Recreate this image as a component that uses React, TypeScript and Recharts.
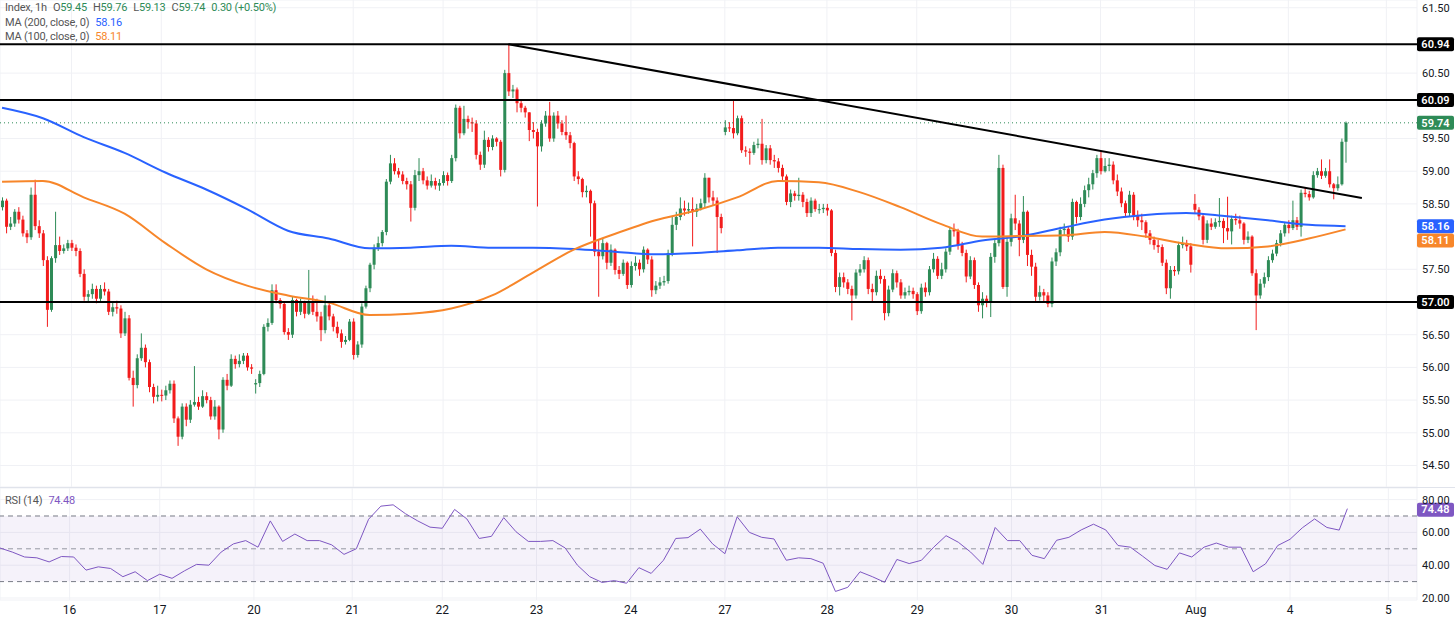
// Hourly candles with MA(200)/MA(100), support/resistance levels and RSI(14) pane

import {
  ComposedChart,
  Bar,
  Line,
  XAxis,
  YAxis,
  CartesianGrid,
  ReferenceLine,
  ReferenceArea,
} from "recharts";

type Hlc = [number, number, number]; // high, low, close (open = previous close)

const day15: Hlc[] = [
  [58.6, 58.4, 58.55], [58.58, 58.05, 58.15], [58.3, 58.1, 58.2], [58.42, 58.15, 58.38],
  [58.45, 58.2, 58.26], [58.32, 58.0, 58.05], [58.1, 57.9, 57.99], [58.75, 57.95, 58.64],
  [58.87, 58.1, 58.16], [58.25, 57.98, 58.05], [58.1, 57.55, 57.64], [57.7, 56.62, 56.88],
  [57.7, 56.85, 57.67], [58.38, 57.6, 57.87], [58.0, 57.72, 57.78], [57.88, 57.74, 57.82],
  [57.95, 57.78, 57.9],
];
const day16: Hlc[] = [
  [57.95, 57.78, 57.83], [57.88, 57.7, 57.78], [57.82, 57.38, 57.43], [57.5, 57.02, 57.08],
  [57.18, 57.0, 57.12], [57.28, 57.05, 57.2], [57.25, 56.98, 57.05], [57.26, 57.0, 57.2],
  [57.3, 57.1, 57.16], [57.2, 56.8, 56.85], [57.0, 56.78, 56.92], [57.02, 56.82, 56.9],
  [56.95, 56.45, 56.52], [56.85, 56.48, 56.75], [56.8, 55.8, 55.84], [55.95, 55.4, 55.73],
  [56.2, 55.68, 56.14], [56.52, 56.1, 56.3], [56.35, 56.0, 56.08], [56.12, 55.62, 55.7],
  [55.75, 55.45, 55.55], [55.72, 55.48, 55.58],
];
const day17: Hlc[] = [
  [55.66, 55.48, 55.57], [55.72, 55.5, 55.65], [55.8, 55.6, 55.75], [55.8, 55.15, 55.22],
  [55.25, 54.8, 54.94], [55.45, 54.9, 55.4], [55.45, 55.1, 55.2], [55.5, 55.15, 55.43],
  [56.02, 55.4, 55.47], [55.55, 55.35, 55.4], [55.65, 55.38, 55.56], [55.62, 55.45, 55.5],
  [55.55, 55.2, 55.25], [55.5, 55.2, 55.4], [55.42, 54.9, 55.05], [55.85, 55.0, 55.81],
  [55.9, 55.65, 55.72], [56.2, 55.7, 56.13], [56.18, 55.98, 56.05], [56.2, 56.0, 56.1],
  [56.22, 56.05, 56.18], [56.22, 55.95, 56.0], [56.05, 55.9, 55.98],
];
const day20: Hlc[] = [
  [55.82, 55.6, 55.76], [55.95, 55.7, 55.9], [56.66, 55.88, 56.62], [56.75, 56.55, 56.68],
  [57.27, 56.65, 57.18], [57.27, 56.98, 57.03], [57.06, 56.9, 56.97], [57.0, 56.5, 56.54],
  [56.6, 56.42, 56.5], [57.08, 56.45, 57.03], [57.05, 56.78, 56.85], [57.05, 56.8, 57.0],
  [57.02, 56.75, 56.82], [57.49, 56.8, 57.0], [57.1, 56.8, 56.85], [57.05, 56.7, 56.78],
  [56.85, 56.4, 56.57], [57.1, 56.52, 56.95], [57.0, 56.72, 56.78], [56.82, 56.55, 56.62],
  [56.7, 56.45, 56.52], [56.58, 56.3, 56.39], [56.48, 56.35, 56.42], [56.74, 56.4, 56.7],
];
const day21: Hlc[] = [
  [56.75, 56.12, 56.19], [56.4, 56.15, 56.35], [56.98, 56.3, 56.93], [57.25, 56.9, 57.21],
  [57.6, 57.15, 57.57], [57.88, 57.5, 57.83], [58.0, 57.78, 57.9], [58.1, 57.85, 58.07],
  [58.88, 58.02, 58.84], [59.25, 58.8, 59.12], [59.2, 58.95, 59.0], [59.05, 58.9, 58.95],
  [59.0, 58.8, 58.85], [58.9, 58.72, 58.8], [58.85, 58.23, 58.44], [59.02, 58.4, 58.94],
  [59.2, 58.85, 59.0], [59.05, 58.8, 58.86], [58.92, 58.72, 58.78], [58.95, 58.75, 58.85],
  [58.9, 58.72, 58.78], [58.88, 58.7, 58.82],
];
const day22: Hlc[] = [
  [59.0, 58.78, 58.94], [58.98, 58.78, 58.85], [59.25, 58.82, 59.2], [60.02, 59.15, 59.97],
  [60.0, 59.5, 59.58], [60.0, 59.55, 59.8], [59.85, 59.65, 59.75], [59.82, 59.6, 59.73],
  [59.78, 59.18, 59.25], [59.3, 59.02, 59.1], [59.62, 59.05, 59.48], [59.52, 59.3, 59.37],
  [59.55, 59.32, 59.5], [59.52, 59.38, 59.45], [59.48, 58.92, 59.02], [60.55, 58.98, 60.5],
  [60.94, 60.15, 60.22], [60.32, 60.12, 60.25], [60.28, 59.9, 60.04], [60.1, 59.9, 59.97],
  [60.0, 59.82, 59.9], [59.9, 59.46, 59.63], [59.75, 59.5, 59.6],
];
const day23: Hlc[] = [
  [59.65, 58.46, 59.38], [59.78, 59.3, 59.73], [59.92, 59.68, 59.85], [60.06, 59.45, 59.5],
  [59.9, 59.45, 59.85], [59.92, 59.65, 59.73], [59.78, 59.55, 59.6], [59.85, 59.48, 59.55],
  [59.6, 59.35, 59.43], [59.45, 58.85, 58.92], [59.0, 58.8, 58.88], [58.9, 58.6, 58.68],
  [58.78, 58.6, 58.7], [58.72, 58.0, 58.51], [58.55, 57.7, 57.77], [57.95, 57.08, 57.7],
  [57.98, 57.65, 57.9], [57.92, 57.5, 57.6], [57.88, 57.55, 57.8], [57.82, 57.42, 57.49],
  [57.55, 57.35, 57.43], [57.65, 57.4, 57.6], [57.62, 57.2, 57.26],
];
const day24: Hlc[] = [
  [57.62, 57.22, 57.55], [57.7, 57.48, 57.6], [57.65, 57.4, 57.5], [57.85, 57.45, 57.8],
  [57.82, 57.58, 57.65], [57.7, 57.08, 57.18], [57.32, 57.12, 57.25], [57.38, 57.2, 57.3],
  [57.4, 57.25, 57.32], [57.8, 57.28, 57.75], [58.3, 57.7, 58.18], [58.38, 58.1, 58.3],
  [58.6, 58.25, 58.43], [58.55, 58.32, 58.4], [58.52, 58.35, 58.42], [58.6, 57.85, 58.38],
  [58.5, 58.3, 58.43], [58.58, 58.4, 58.51], [58.97, 58.45, 58.9], [58.9, 58.52, 58.6],
  [58.7, 58.48, 58.55], [58.6, 57.75, 58.3], [58.35, 58.05, 58.13],
];
const day27: Hlc[] = [
  [59.78, 59.55, 59.67], [59.75, 59.6, 59.66], [60.09, 59.5, 59.58], [59.85, 59.55, 59.81],
  [59.85, 59.28, 59.32], [59.38, 59.22, 59.3], [59.35, 59.1, 59.28], [59.45, 59.25, 59.4],
  [59.5, 59.35, 59.42], [59.8, 59.1, 59.17], [59.4, 59.12, 59.35], [59.4, 59.1, 59.17],
  [59.25, 59.05, 59.15], [59.2, 58.98, 59.05], [59.1, 58.85, 58.92], [58.95, 58.48, 58.53],
  [58.72, 58.45, 58.66], [58.7, 58.55, 58.62], [58.9, 58.55, 58.64], [58.68, 58.45, 58.53],
  [58.58, 58.3, 58.36], [58.6, 58.3, 58.55], [58.58, 58.38, 58.42], [58.5, 58.35, 58.42],
  [58.5, 58.36, 58.44],
];
const day28: Hlc[] = [
  [58.5, 58.32, 58.4], [58.42, 57.7, 57.75], [57.8, 57.15, 57.23], [57.45, 57.1, 57.38],
  [57.45, 57.22, 57.3], [57.35, 57.12, 57.2], [57.25, 56.72, 57.1], [57.5, 57.05, 57.45],
  [57.58, 57.4, 57.5], [57.7, 57.45, 57.64], [57.68, 57.12, 57.2], [57.28, 57.0, 57.15],
  [57.48, 57.1, 57.4], [57.5, 57.28, 57.35], [57.4, 56.72, 56.83], [57.25, 56.78, 57.19],
  [57.5, 57.15, 57.44], [57.48, 57.22, 57.3], [57.35, 57.05, 57.1], [57.22, 57.05, 57.15],
  [57.25, 57.1, 57.17], [57.22, 57.05, 57.12],
];
const day29: Hlc[] = [
  [57.15, 56.8, 56.86], [57.28, 56.82, 57.22], [57.3, 57.08, 57.15], [57.55, 57.1, 57.5],
  [57.75, 57.45, 57.66], [57.7, 57.35, 57.4], [57.6, 57.35, 57.5], [57.82, 57.45, 57.77],
  [58.15, 57.72, 58.1], [58.2, 58.0, 58.08], [58.12, 57.8, 57.87], [57.92, 57.7, 57.75],
  [57.8, 57.3, 57.39], [57.7, 57.35, 57.64], [57.68, 57.2, 57.26], [57.3, 56.85, 56.95],
  [57.15, 56.75, 57.05], [57.1, 56.92, 57.0], [57.75, 56.77, 57.69], [57.95, 57.6, 57.9],
  [59.25, 57.85, 59.05], [59.1, 57.2, 57.23], [58.0, 57.08, 57.92],
];
const day30: Hlc[] = [
  [58.35, 57.85, 58.28], [58.64, 58.1, 58.2], [58.25, 57.7, 57.95], [58.62, 57.9, 58.38],
  [58.4, 57.55, 57.72], [57.8, 57.4, 57.54], [57.6, 57.0, 57.08], [57.25, 57.02, 57.15],
  [57.2, 57.0, 57.1], [57.15, 56.92, 56.97], [57.68, 56.92, 57.62], [57.82, 57.55, 57.76],
  [58.15, 57.7, 58.1], [58.2, 58.02, 58.12], [58.15, 57.92, 58.0], [58.58, 57.95, 58.53],
  [58.55, 58.2, 58.3], [58.6, 58.25, 58.5], [58.78, 58.45, 58.71], [58.9, 58.6, 58.8],
  [59.02, 58.72, 58.97], [59.25, 58.9, 59.2],
];
const day31: Hlc[] = [
  [59.31, 58.95, 59.0], [59.2, 58.98, 59.08], [59.2, 59.0, 59.1], [59.15, 58.8, 58.86],
  [58.95, 58.62, 58.69], [58.75, 58.45, 58.51], [58.55, 58.3, 58.36], [58.7, 58.3, 58.64],
  [58.68, 58.25, 58.32], [58.4, 58.15, 58.25], [58.35, 58.1, 58.22], [58.25, 57.98, 58.05],
  [58.1, 57.88, 57.95], [58.0, 57.8, 57.87], [57.95, 57.75, 57.84], [57.88, 57.55, 57.6],
  [57.65, 57.12, 57.21], [57.55, 57.05, 57.49], [57.55, 57.4, 57.47], [57.92, 57.42, 57.87],
  [58.0, 57.82, 57.9], [57.95, 57.78, 57.85], [57.9, 57.45, 57.57],
];
const dayAug1: Hlc[] = [
  [58.65, 58.35, 58.41], [58.45, 58.25, 58.31], [58.35, 57.88, 57.95], [58.25, 57.9, 58.2],
  [58.28, 58.1, 58.15], [58.28, 58.12, 58.22], [58.59, 58.15, 58.24], [58.28, 57.9, 58.13],
  [58.61, 57.95, 58.08], [58.32, 57.88, 58.27], [58.35, 58.18, 58.25], [58.32, 58.12, 58.2],
  [58.22, 57.88, 57.95], [58.08, 57.9, 58.0], [58.02, 57.4, 57.44], [57.5, 56.57, 57.1],
  [57.35, 57.05, 57.28], [57.45, 57.22, 57.38], [57.7, 57.32, 57.64], [57.8, 57.6, 57.74],
  [57.95, 57.7, 57.9], [58.1, 57.85, 58.05], [58.22, 58.0, 58.18],
];
const dayAug4: Hlc[] = [
  [58.25, 58.05, 58.13], [58.55, 58.1, 58.25], [58.3, 58.1, 58.15], [58.72, 58.0, 58.67],
  [58.75, 58.6, 58.65], [58.7, 58.55, 58.6], [59.0, 58.58, 58.94], [59.05, 58.9, 59.0],
  [59.18, 58.88, 58.93], [59.05, 58.9, 59.0], [59.18, 58.75, 58.8], [58.82, 58.57, 58.74],
  [58.92, 58.7, 58.8], [59.5, 58.78, 59.45], [59.76, 59.13, 59.74],
];

const sessions = [
  day15, day16, day17, day20, day21, day22, day23, day24,
  day27, day28, day29, day30, day31, dayAug1, dayAug4,
];
const sessionLabels = ["15", "16", "17", "20", "21", "22", "23", "24", "27", "28", "29", "30", "31", "Aug", "4"];
const sessionOpens = [58.45, 57.9, 55.58, 55.74, 56.7, 58.82, 59.6, 57.26, 59.6, 58.44, 57.12, 57.92, 59.2, 58.5, 58.18];
const nextSessionLabel = "5";
const fullSessionBars = 24; // length of the running session, to place the next day label
const totalSlots = 347; // candle slots across the plot, incl. empty space on the right

// moving averages read every 10 bars (last value = current bar)
const ma200Every10 = [
  59.97, 59.81, 59.52, 59.28, 58.98, 58.72, 58.42, 58.09, 57.97, 57.82, 57.83, 57.86,
  57.83, 57.83, 57.81, 57.77, 57.73, 57.75, 57.79, 57.83, 57.83, 57.81, 57.8, 57.83,
  57.94, 58.01, 58.14, 58.26, 58.33, 58.36, 58.31, 58.25, 58.18, 58.16,
];
const ma100Every10 = [
  58.84, 58.85, 58.6, 58.35, 57.9, 57.5, 57.25, 57.1, 56.99, 56.8, 56.82, 56.9,
  57.1, 57.45, 57.8, 58.04, 58.25, 58.4, 58.6, 58.85, 58.83, 58.68, 58.45, 58.19,
  58.0, 58.01, 58.02, 58.07, 58.0, 57.89, 57.82, 57.85, 57.97, 58.11,
];

// RSI(14) read every 3 bars (last value = current bar)
const rsiEvery3 = [
  50.5, 48, 45, 44.5, 42, 45.3, 45, 37, 39, 38, 33, 36, 30.6, 34.5, 32, 36.5, 40.5, 40,
  48, 53, 55, 51, 67, 54.5, 59, 55, 55, 52.4, 46.6, 50, 68, 76, 76.8, 71.4, 67, 63.2,
  62.5, 74, 68.2, 56.3, 57.6, 69, 60.4, 54.5, 54.5, 55, 50.5, 40, 33, 29.5, 30.6, 29,
  38.5, 35, 43, 56.3, 56.8, 62, 53, 47, 69.5, 60, 57, 56, 43, 44.5, 44, 41.2, 24, 26.5,
  36, 33, 29.6, 43.5, 41, 43, 51, 58, 54, 48, 40.5, 63, 55, 55, 46, 44, 55.2, 57, 61.5,
  65, 61.5, 52, 51, 45.5, 39.8, 37.5, 47.5, 45, 51, 53.5, 51, 51, 36, 40.8, 52, 55.8,
  62.8, 68.2, 63, 61.4, 74.48,
];

const levels = [60.94, 60.09, 57.0];
const lastPrice = 59.74;
const trendline = [
  { i: 124, price: 60.94 },
  { i: 333, price: 58.59 },
];
// 61.00, 60.00, 58.00 and 57.00 sit under the axis tags in the original
const priceTicks = [54.5, 55, 55.5, 56, 56.5, 57.5, 58.5, 59, 59.5, 60.5, 61.5];
const rsiTicks = [20, 40, 60, 80];

const GREEN = "#2e8b57";
const RED = "#f21c1c";
const BLUE = "#2962ff";
const ORANGE = "#f7862a";
const PURPLE = "#7e57c2";
const FONT = "Roboto, 'Noto Sans', sans-serif";

// build rows
type Row = {
  i: number;
  o?: number;
  h?: number;
  l?: number;
  c?: number;
  range?: [number, number];
  ma200?: number;
  ma100?: number;
  rsi?: number;
};

const rows: Row[] = [];
const tickLabels: Record<number, string> = {};
let prevClose = 0;
sessions.forEach((bars, d) => {
  tickLabels[rows.length] = sessionLabels[d];
  bars.forEach(([h, l, c], j) => {
    const o = j === 0 ? sessionOpens[d] : prevClose;
    const hi = Math.max(h, o, c);
    const lo = Math.min(l, o, c);
    rows.push({ i: rows.length, o, h: hi, l: lo, c, range: [lo, hi] });
    prevClose = c;
  });
});
const lastBar = rows.length - 1;
const lastSessionStart = lastBar + 1 - dayAug4.length;
tickLabels[lastSessionStart + fullSessionBars] = nextSessionLabel;
while (rows.length < totalSlots) rows.push({ i: rows.length });

ma200Every10.forEach((v, k) => {
  rows[Math.min(k * 10, lastBar)].ma200 = v;
});
ma100Every10.forEach((v, k) => {
  rows[Math.min(k * 10, lastBar)].ma100 = v;
});
rsiEvery3.forEach((v, k) => {
  rows[Math.min(k * 3, lastBar)].rsi = v;
});

const dayTicks = Object.keys(tickLabels)
  .map(Number)
  .filter((t) => t > 0);

function Candle(props: any) {
  const { x, y, width, height, payload } = props;
  if (!payload || payload.o == null) return null;
  const { o, h, l, c } = payload;
  const color = c >= o ? GREEN : RED;
  const top = Math.min(y, y + height);
  const span = Math.abs(height);
  const k = h - l > 0 ? span / (h - l) : 0;
  const bodyTop = top + (h - Math.max(o, c)) * k;
  const bodyBottom = top + (h - Math.min(o, c)) * k;
  const cx = x + width / 2;
  return (
    <g>
      <line x1={cx} x2={cx} y1={top} y2={top + span} stroke={color} strokeWidth={1} />
      <rect x={x} y={bodyTop} width={width} height={Math.max(1, bodyBottom - bodyTop)} fill={color} />
    </g>
  );
}

function NoDot() {
  return <g />;
}

function AxisTag(props: any) {
  const { viewBox, text, fill, shift = 0 } = props;
  if (!viewBox) return null;
  const x = viewBox.x + viewBox.width;
  const y = viewBox.y + shift;
  return (
    <g>
      <rect x={x} y={y - 7} width={37} height={14} rx={2} fill={fill} />
      <text
        x={x + 18.5}
        y={y}
        dy="0.35em"
        textAnchor="middle"
        fill="#fff"
        fontSize={11}
        fontWeight={600}
        fontFamily={FONT}
      >
        {text}
      </text>
    </g>
  );
}

const mutedText = "#555";
const gap = { marginLeft: 6 };

export default function App() {
  return (
    <div
      style={{
        position: "relative",
        width: 1455,
        height: 617,
        background: "#fff",
        fontFamily: FONT,
        overflow: "hidden",
      }}
    >
      <style>{"body{margin:0}"}</style>

      <ComposedChart
        width={1455}
        height={487}
        data={rows}
        margin={{ top: 0, right: 0, bottom: 0, left: 0 }}
      >
        <CartesianGrid stroke="#f0f1f5" />
        <XAxis dataKey="i" hide ticks={dayTicks} interval={0} />
        <YAxis
          orientation="right"
          width={38}
          domain={[54.171, 61.618]}
          allowDataOverflow
          ticks={priceTicks}
          interval={0}
          tickFormatter={(v: number) => v.toFixed(2)}
          tick={{ fill: "#131722", fontSize: 11, fontFamily: FONT }}
          tickLine={false}
          axisLine={false}
          tickSize={0}
          tickMargin={5}
        />
        <ReferenceLine y={lastPrice} stroke={GREEN} strokeDasharray="1 3" />
        <Bar dataKey="range" barSize={3} shape={<Candle />} isAnimationActive={false} />
        <Line
          dataKey="ma200"
          type="monotone"
          stroke={BLUE}
          strokeWidth={2}
          dot={NoDot}
          activeDot={false}
          connectNulls
          isAnimationActive={false}
        />
        <Line
          dataKey="ma100"
          type="monotone"
          stroke={ORANGE}
          strokeWidth={2}
          dot={NoDot}
          activeDot={false}
          connectNulls
          isAnimationActive={false}
        />
        {levels.map((lv) => (
          <ReferenceLine
            key={lv}
            y={lv}
            stroke="#000"
            strokeWidth={2}
            label={<AxisTag text={lv.toFixed(2)} fill="#000" />}
          />
        ))}
        <ReferenceLine
          segment={trendline.map((p) => ({ x: p.i, y: p.price }))}
          stroke="#000"
          strokeWidth={2}
        />
        <ReferenceLine
          y={lastPrice}
          stroke="none"
          label={<AxisTag text={lastPrice.toFixed(2)} fill={GREEN} />}
        />
        <ReferenceLine
          y={ma200Every10[ma200Every10.length - 1]}
          stroke="none"
          label={<AxisTag text={ma200Every10[ma200Every10.length - 1].toFixed(2)} fill={BLUE} />}
        />
        <ReferenceLine
          y={ma100Every10[ma100Every10.length - 1]}
          stroke="none"
          label={<AxisTag text={ma100Every10[ma100Every10.length - 1].toFixed(2)} fill={ORANGE} shift={11} />}
        />
      </ComposedChart>

      <div style={{ borderTop: "1px solid #e0e3eb" }}>
        <ComposedChart
          width={1455}
          height={129}
          data={rows}
          margin={{ top: 0, right: 0, bottom: 0, left: 0 }}
        >
          <CartesianGrid stroke="#f0f1f5" />
          <XAxis
            dataKey="i"
            ticks={dayTicks}
            interval={0}
            height={17}
            tickFormatter={(v: number) => tickLabels[v] ?? ""}
            tick={{ fill: "#131722", fontSize: 12, fontFamily: FONT }}
            tickLine={false}
            axisLine={false}
            tickSize={0}
            tickMargin={5}
          />
          <YAxis
            orientation="right"
            width={38}
            domain={[18.78, 87.07]}
            allowDataOverflow
            ticks={rsiTicks}
            interval={0}
            tickFormatter={(v: number) => v.toFixed(2)}
            tick={{ fill: "#131722", fontSize: 11, fontFamily: FONT }}
            tickLine={false}
            axisLine={false}
            tickSize={0}
            tickMargin={5}
          />
          <ReferenceArea y1={30} y2={70} fill={PURPLE} fillOpacity={0.08} stroke="none" />
          <ReferenceLine y={70} stroke="#787b86" strokeDasharray="5 4" />
          <ReferenceLine y={50} stroke="#9598a1" strokeDasharray="5 4" />
          <ReferenceLine y={30} stroke="#787b86" strokeDasharray="5 4" />
          <Line
            dataKey="rsi"
            type="linear"
            stroke={PURPLE}
            strokeWidth={1}
            dot={NoDot}
            activeDot={false}
            connectNulls
            isAnimationActive={false}
          />
          <ReferenceLine
            y={rsiEvery3[rsiEvery3.length - 1]}
            stroke="none"
            label={<AxisTag text={rsiEvery3[rsiEvery3.length - 1].toFixed(2)} fill={PURPLE} shift={1} />}
          />
        </ComposedChart>
      </div>

      <div
        style={{
          position: "absolute",
          left: 5,
          top: 1,
          fontSize: 11,
          letterSpacing: -0.2,
          lineHeight: "14.5px",
          color: mutedText,
          pointerEvents: "none",
        }}
      >
        <div>
          Index, 1h
          <span style={gap}>O</span><span style={{ color: GREEN }}>59.45</span>
          <span style={gap}>H</span><span style={{ color: GREEN }}>59.76</span>
          <span style={gap}>L</span><span style={{ color: GREEN }}>59.13</span>
          <span style={gap}>C</span><span style={{ color: GREEN }}>59.74</span>
          <span style={{ ...gap, color: GREEN }}>0.30 (+0.50%)</span>
        </div>
        <div>
          MA (200, close, 0)<span style={{ ...gap, color: BLUE }}>58.16</span>
        </div>
        <div>
          MA (100, close, 0)<span style={{ ...gap, color: ORANGE }}>58.11</span>
        </div>
      </div>

      <div
        style={{
          position: "absolute",
          left: 5,
          top: 494,
          fontSize: 11,
          letterSpacing: -0.2,
          color: mutedText,
          pointerEvents: "none",
        }}
      >
        RSI (14)<span style={{ ...gap, color: PURPLE }}>74.48</span>
      </div>
    </div>
  );
}
